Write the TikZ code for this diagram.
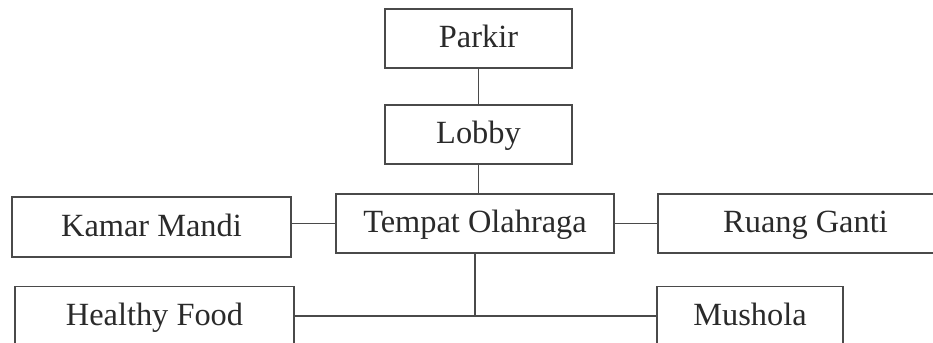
\documentclass[tikz,border=0pt]{standalone}
\usepackage{fontspec}
\setmainfont{Liberation Serif}
\definecolor{linegray}{HTML}{4A4A4A}
\definecolor{textgray}{HTML}{2A2A2A}
\begin{document}
\begin{tikzpicture}[x=1bp,y=-1bp,
  box/.style={draw=linegray, line width=1.3bp, rectangle, inner sep=0pt,
    font=\fontsize{32.5}{38}\selectfont, text=textgray,
    text height=21.5bp, text depth=3bp, minimum height=59bp},
  link/.style={draw=linegray, line width=1.3bp}]
  % page frame; boxes at the lower and right edges run off the page
  \path[use as bounding box, clip] (0,0) rectangle (933,342);

  % rooms
  \node[box, minimum width=187bp] (parkir)  at (478.5,38.5)  {Parkir};
  \node[box, minimum width=187bp] (lobby)   at (478.5,134.5) {Lobby};
  \node[box, minimum width=278bp] (tempat)  at (475,223.5)   {Tempat Olahraga};
  \node[box, minimum width=279bp, minimum height=60bp] (kamar) at (151.5,227) {Kamar Mandi};
  \node[box, minimum width=295bp] (ruang)   at (805.5,223.5) {Ruang Ganti};
  \node[box, minimum width=279bp] (healthy) at (154.5,316)   {Healthy Food};
  \node[box, minimum width=186bp] (mushola) at (750,316)     {Mushola};

  % circulation links
  \draw[link] (parkir.south) -- (lobby.north);
  \draw[link] (lobby.south) -- (lobby.south |- tempat.north);
  \draw[link] (kamar.east |- tempat.west) -- (tempat.west);
  \draw[link] (tempat.east) -- (tempat.east -| ruang.west);
  \coordinate (junction) at (tempat.south |- healthy.east);
  \draw[link] (tempat.south) -- (junction);
  \draw[link] (healthy.east) -- (mushola.west);
\end{tikzpicture}
\end{document}
